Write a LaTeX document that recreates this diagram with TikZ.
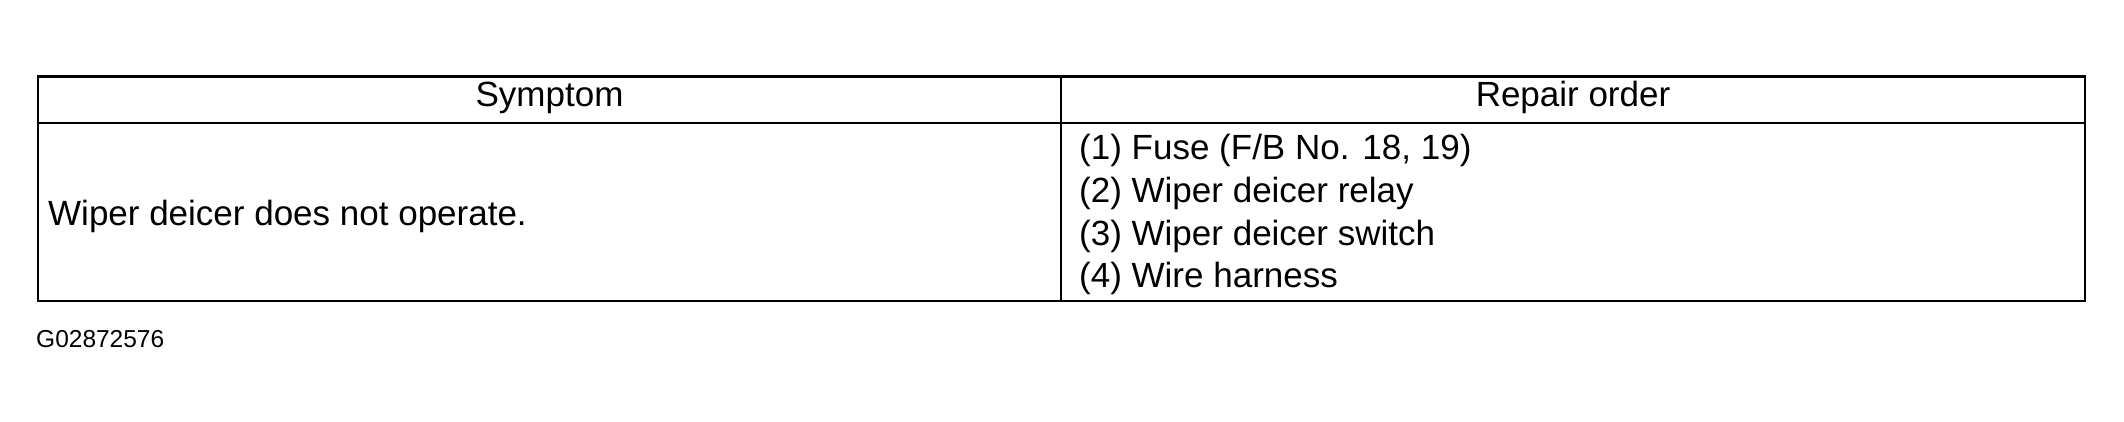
\documentclass[tikz,border=0pt]{standalone}
\usepackage{fontspec}
\setmainfont{Liberation Sans}
\usetikzlibrary{positioning}

\begin{document}
\begin{tikzpicture}[x=1pt, y=-1pt,
    cell/.style={font=\fontsize{35}{42}\selectfont, inner sep=0pt},
    rule/.style={line width=2.2pt},]
    \useasboundingbox (0,0) rectangle (2124,422);
    %Frame
    \draw[line width=2.8pt] (38,76.5) rectangle (2085,301);
    \draw[rule] (38,123) -- (2085,123);
    \draw[rule] (1061,76.5) -- (1061,301);

    %Header
    \node[cell, anchor=base] (symptom) at (549.5,107) {Symptom};
    \node[cell, anchor=base] (repair) at (1573,107) {Repair order};

    %Rows
    \node[cell, anchor=base west] (wiper) at (48,225) {Wiper deicer does not operate.};
    \node[cell, anchor=base west] (fuse) at (1079,160) {(1) Fuse (F/B No. 18, 19)};
    \node[cell, anchor=base west] (relay) at (1079,202.5) {(2) Wiper deicer relay};
    \node[cell, anchor=base west] (switch) at (1079,245) {(3) Wiper deicer switch};
    \node[cell, anchor=base west] (harness) at (1079,287.5) {(4) Wire harness};

    %Code
    \node[inner sep=0pt, anchor=base west, font=\fontsize{24.5}{29}\selectfont] (code) at (36,347) {G02872576};
  \end{tikzpicture}
\end{document}
